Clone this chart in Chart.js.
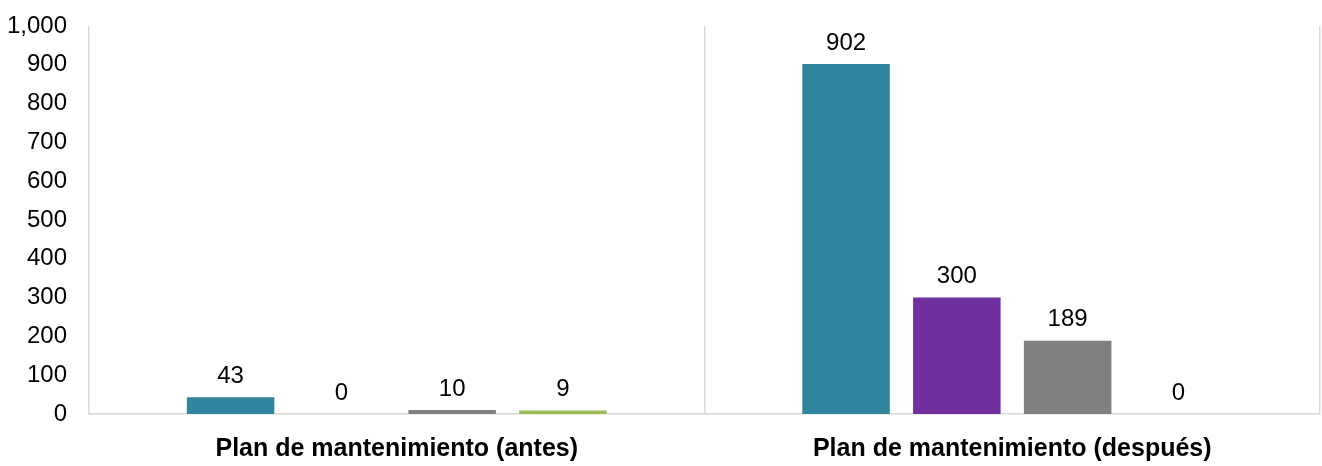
<!DOCTYPE html>
<html>
<head>
<meta charset="utf-8">
<script src="https://cdn.jsdelivr.net/npm/chart.js@4"></script>
<style>
  html, body { margin: 0; padding: 0; background: #fff; overflow: hidden; }
  #wrap { width: 1322px; height: 466px; }
</style>
</head>
<body>
<div id="wrap"><canvas class="chart"></canvas></div>
<script>
const categories = ['Plan de mantenimiento (antes)', 'Plan de mantenimiento (después)'];
const serieA = [43, 902];
const serieB = [0, 300];
const serieC = [10, 189];
const serieD = [9, 0];
const yTicks = [0, 100, 200, 300, 400, 500, 600, 700, 800, 900, 1000];

const FONT = "'Liberation Sans Narrow', 'Arial Narrow', 'Liberation Sans', sans-serif";

// draws the value above every bar
const barLabels = {
  id: 'barLabels',
  afterDatasetsDraw(chart) {
    const ctx = chart.ctx;
    ctx.save();
    ctx.font = '24px ' + FONT;
    ctx.fillStyle = '#000';
    ctx.textAlign = 'center';
    ctx.textBaseline = 'bottom';
    chart.data.datasets.forEach(function (ds, i) {
      chart.getDatasetMeta(i).data.forEach(function (bar, j) {
        ctx.fillText(ds.data[j].toLocaleString('en-US'), bar.x, bar.y - 9);
      });
    });
    ctx.restore();
  }
};

document.addEventListener('DOMContentLoaded', function () {
  const canvas = document.getElementsByClassName('chart')[0];
  const data = {
    labels: categories,
    datasets: [
      { label: 'A', data: serieA, backgroundColor: '#31859C' },
      { label: 'B', data: serieB, backgroundColor: '#7030A0' },
      { label: 'C', data: serieC, backgroundColor: '#808080' },
      { label: 'D', data: serieD, backgroundColor: '#9BBB59' }
    ]
  };
  const config = {
    type: 'bar',
    data: data,
    options: {
      responsive: true,
      maintainAspectRatio: false,
      animation: false,
      datasets: { bar: { categoryPercentage: 0.72, barPercentage: 0.79 } },
      layout: { padding: { top: 26, right: 2, left: 8, bottom: -18 } },
      plugins: { legend: { display: false }, tooltip: { enabled: false } },
      scales: {
        x: {
          afterFit(scale) { scale.paddingLeft = 0; scale.paddingRight = 0; },
          grid: { display: true, offset: true, color: '#d9d9d9', lineWidth: 1.5, drawTicks: false },
          border: { color: '#d9d9d9', width: 1.5 },
          ticks: { color: '#000', padding: 20, font: { family: FONT, size: 25, weight: 'bold' } }
        },
        y: {
          min: 0,
          max: 1000,
          afterBuildTicks(axis) { axis.ticks = yTicks.map(v => ({ value: v })); },
          afterFit(scale) { scale.paddingTop = 0; scale.paddingBottom = 0; scale.width = 81; },
          grid: { display: false, drawTicks: false },
          border: { display: false },
          ticks: {
            color: '#000',
            padding: 22,
            font: { family: FONT, size: 24 },
            callback: v => v.toLocaleString('en-US')
          }
        }
      }
    },
    plugins: [barLabels]
  };
  new Chart(canvas, config);
});
</script>
</body>
</html>
